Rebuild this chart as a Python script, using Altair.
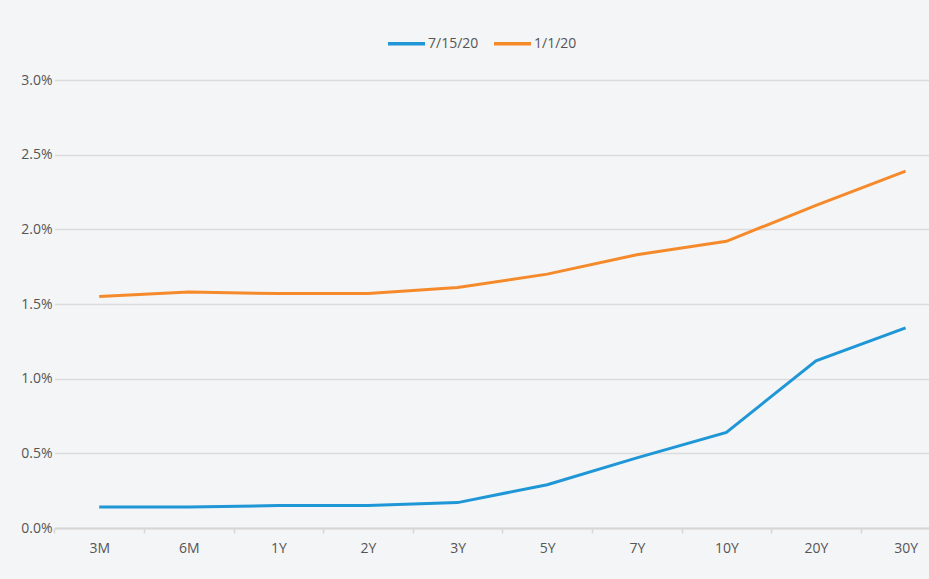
import altair as alt
import pandas as pd

tenors = ["3M", "6M", "1Y", "2Y", "3Y", "5Y", "7Y", "10Y", "20Y", "30Y"]
jul_15_20 = [0.14, 0.14, 0.15, 0.15, 0.17, 0.29, 0.47, 0.64, 1.12, 1.34]
jan_1_20 = [1.55, 1.58, 1.57, 1.57, 1.61, 1.70, 1.83, 1.92, 2.16, 2.39]
series = ["7/15/20", "1/1/20"]
colors = ["#1f97d6", "#f58a2b"]

rows = []
for name, vals in zip(series, [jul_15_20, jan_1_20]):
    for t, v in zip(tenors, vals):
        rows.append({"tenor": t, "yield": v, "series": name})
df = pd.DataFrame(rows)

FONT = "Open Sans"
LABEL = "#555555"

chart = alt.Chart(df).mark_line(strokeWidth=3).encode(
    x=alt.X("tenor:N", sort=tenors,
            scale=alt.Scale(type="band", range=[-8.6, 887.4], paddingInner=0, paddingOuter=0),
            axis=alt.Axis(title=None, labelAngle=0, tickBand="extent", grid=False,
                          domainColor="#d9d7d5", domainWidth=2, tickColor="#d9d7d5",
                          tickSize=5, tickWidth=1.5, labelPadding=8, labelFontSize=14,
                          labelFontWeight="normal",
                          labelColor=LABEL, labelFont=FONT)),
    y=alt.Y("yield:Q", scale=alt.Scale(domain=[0, 3], nice=False),
            axis=alt.Axis(title=None, values=[0, 0.5, 1, 1.5, 2, 2.5, 3],
                          labelExpr="format(datum.value, '.1f') + '%'",
                          domain=False, ticks=False, gridColor="#dcdcdc", gridWidth=1.5,
                          labelFontWeight="normal",
                          labelPadding=11, labelFontSize=14, labelColor=LABEL, labelFont=FONT)),
    color=alt.Color("series:N", sort=series,
                    scale=alt.Scale(domain=series, range=colors),
                    legend=alt.Legend(title=None, orient="none", legendX=323, legendY=-57,
                                      direction="horizontal", symbolType="stroke",
                                      symbolSize=1369, symbolStrokeWidth=3.5,
                                      labelFontSize=14, labelColor=LABEL, labelFont=FONT,
                                      labelFontWeight="normal",
                                      labelOffset=1, columnPadding=8)),
).properties(
    width=866, height=448,
    background="#f4f5f7",
    padding={"left": 63, "top": 80, "right": 0, "bottom": 51},
    autosize=alt.AutoSizeParams(type="none"),
).configure_view(stroke=None)

chart.save("out.html", embed_options={"renderer": "svg", "actions": False})
